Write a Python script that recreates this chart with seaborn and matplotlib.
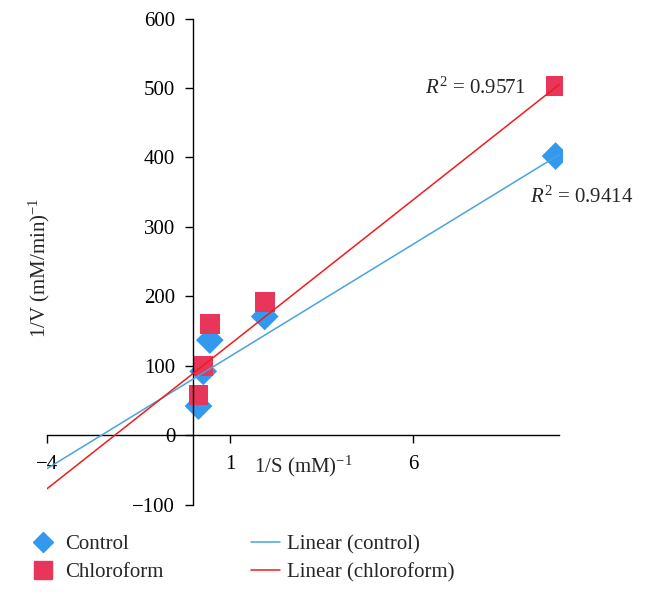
import numpy as np
import pandas as pd
import matplotlib
matplotlib.use("Agg")
import matplotlib.pyplot as plt
import seaborn as sns
from matplotlib.lines import Line2D

# Datos
inv_s = [0.14, 0.27, 0.45, 1.95, 9.9]
control = [42, 92, 137, 171, 402]
chloroform = [58, 100, 160, 192, 503]

# Líneas de tendencia (extremos)
trend_x = [-4, 10]
control_trend = [-48, 404]
chloroform_trend = [-77, 505]

r2_control = 0.9414
r2_chloroform = 0.9571

x_ticks = [-4, 1, 6]
y_ticks = [-100, 0, 100, 200, 300, 400, 500, 600]

sns.set_style("white")
plt.rcParams['font.family'] = ['Liberation Serif', 'DejaVu Serif']
plt.rcParams['mathtext.fontset'] = 'custom'
plt.rcParams['mathtext.rm'] = 'Liberation Serif'
plt.rcParams['mathtext.it'] = 'Liberation Serif:italic'

col_ctrl = '#3399ee'
col_chl = '#e8365a'
line_ctrl = '#4aa3df'
line_chl = '#ee1c1c'
fs = 15

df = pd.DataFrame({
    'x': inv_s + inv_s,
    'y': control + chloroform,
    'serie': ['Control'] * len(inv_s) + ['Chloroform'] * len(inv_s),
})
df_trend = pd.DataFrame({
    'x': trend_x + trend_x,
    'y': control_trend + chloroform_trend,
    'serie': ['Linear (control)'] * 2 + ['Linear (chloroform)'] * 2,
})

fig = plt.figure(figsize=(6.53, 5.98), dpi=100)
ax = fig.add_axes([0.072, 0.156, 0.79, 0.813])

sns.lineplot(data=df_trend, x='x', y='y', hue='serie', ax=ax,
             palette={'Linear (control)': line_ctrl, 'Linear (chloroform)': line_chl},
             linewidth=1.1, legend=False, zorder=3)
sns.scatterplot(data=df, x='x', y='y', hue='serie', style='serie', ax=ax,
                palette={'Control': col_ctrl, 'Chloroform': col_chl},
                markers={'Control': 'D', 'Chloroform': 's'},
                s=200, linewidth=0, legend=False, zorder=2)

ax.set_xlim(-4, 10.1)
ax.set_ylim(-100, 600)
ax.spines['left'].set_position(('data', 0))
ax.spines['bottom'].set_position(('data', 0))
ax.spines['right'].set_visible(False)
ax.spines['top'].set_visible(False)
ax.spines['left'].set_bounds(-100, 600)
ax.spines['bottom'].set_bounds(-4, 10)
for s in ['left', 'bottom']:
    ax.spines[s].set_color('black')
    ax.spines[s].set_linewidth(1.0)

ax.set_xticks(x_ticks)
ax.set_yticks(y_ticks)
ax.tick_params(axis='both', direction='out', length=6, width=1, colors='black',
               labelsize=fs, left=True, bottom=True)
ax.tick_params(axis='x', pad=8)
ax.tick_params(axis='y', pad=7)
ax.set_xticklabels(['\u22124', '1', '6'])
ax.set_yticklabels(['\u2212100' if v < 0 else str(v) for v in y_ticks])
ax.set_xlabel('')
ax.set_ylabel('')

fig.text(0.061, 0.553, '1/V (mM/min)$^{-1}$', rotation=90, ha='center', va='center', fontsize=fs)
ax.text(3.0, -45, '1/S (mM)$^{-1}$', ha='center', va='center', fontsize=fs)
ax.text(7.7, 500, f'$R^2$ = {r2_chloroform}', ha='center', va='center', fontsize=fs)
ax.text(10.6, 343, f'$R^2$ = {r2_control}', ha='center', va='center', fontsize=fs)

# Leyenda
handles = [
    Line2D([], [], marker='D', color=col_ctrl, linestyle='none', markersize=10),
    Line2D([], [], marker='s', color=col_chl, linestyle='none', markersize=13),
    Line2D([], [], color=line_ctrl, linewidth=1.1),
    Line2D([], [], color=line_chl, linewidth=1.1),
]
labels = ['Control', 'Chloroform', 'Linear (control)', 'Linear (chloroform)']
fig.legend(handles, labels, ncol=2, frameon=False, fontsize=fs,
           loc='lower left', bbox_to_anchor=(0.015, -0.005),
           columnspacing=4.2, handlelength=1.4, handletextpad=0.35, labelspacing=0.4)

plt.savefig('out.png', dpi=100)
plt.close()
